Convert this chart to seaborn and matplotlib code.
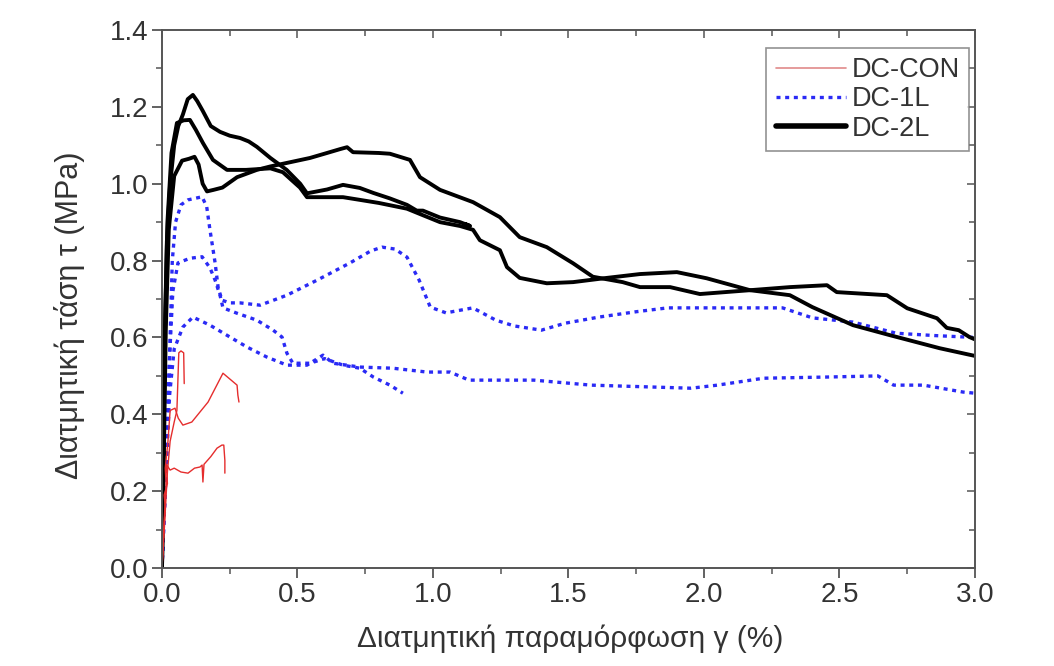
import matplotlib
matplotlib.use("Agg")
import matplotlib.pyplot as plt
from matplotlib.lines import Line2D
from matplotlib.ticker import MultipleLocator
import seaborn as sns

# DC-2L (black, solid) - three specimens
b1_x = [0, 0.005, 0.01, 0.018, 0.03, 0.045, 0.06, 0.077, 0.095, 0.114, 0.13, 0.15, 0.18, 0.214, 0.25, 0.288,
        0.32, 0.35, 0.40, 0.46, 0.51, 0.535, 0.609, 0.668, 0.73, 0.78, 0.84, 0.904, 0.94, 0.963, 1.026, 1.10,
        1.137, 1.12]
b1_y = [0, 0.30, 0.60, 0.85, 1.0, 1.10, 1.15, 1.18, 1.22, 1.231, 1.215, 1.19, 1.15, 1.135, 1.125, 1.119,
        1.11, 1.096, 1.067, 1.036, 1.0, 0.975, 0.985, 0.997, 0.989, 0.976, 0.962, 0.945, 0.93, 0.93, 0.912, 0.9,
        0.89, 0.895]

b2_x = [0, 0.006, 0.012, 0.02, 0.035, 0.055, 0.08, 0.103, 0.125, 0.151, 0.188, 0.24, 0.31, 0.40, 0.446,
        0.509, 0.535, 0.609, 0.668, 0.73, 0.80, 0.904, 0.963, 1.026, 1.10, 1.148, 1.173, 1.247, 1.273, 1.32,
        1.42, 1.517, 1.642, 1.764, 1.90, 2.01, 2.17, 2.317, 2.40, 2.55, 2.686, 2.87, 3.0]
b2_y = [0, 0.35, 0.65, 0.90, 1.08, 1.158, 1.165, 1.166, 1.14, 1.106, 1.062, 1.036, 1.036, 1.04, 1.03,
        0.99, 0.965, 0.965, 0.965, 0.958, 0.95, 0.935, 0.918, 0.9, 0.89, 0.88, 0.853, 0.827, 0.783, 0.755,
        0.741, 0.744, 0.755, 0.765, 0.77, 0.754, 0.723, 0.71, 0.679, 0.632, 0.606, 0.572, 0.552]

b3_x = [0, 0.007, 0.014, 0.025, 0.045, 0.074, 0.10, 0.12, 0.135, 0.15, 0.166, 0.19, 0.223, 0.277, 0.35,
        0.40, 0.46, 0.546, 0.609, 0.657, 0.683, 0.705, 0.80, 0.841, 0.915, 0.952, 1.026, 1.148, 1.247, 1.32,
        1.42, 1.517, 1.59, 1.70, 1.764, 1.875, 1.985, 2.17, 2.317, 2.454, 2.49, 2.675, 2.75, 2.86, 2.896,
        2.94, 2.98, 3.0]
b3_y = [0, 0.30, 0.62, 0.88, 1.02, 1.06, 1.065, 1.07, 1.05, 1.0, 0.98, 0.984, 0.99, 1.017, 1.036,
        1.045, 1.054, 1.067, 1.08, 1.09, 1.095, 1.082, 1.08, 1.078, 1.062, 1.017, 0.984, 0.952, 0.913, 0.861,
        0.835, 0.793, 0.758, 0.744, 0.731, 0.731, 0.713, 0.723, 0.731, 0.736, 0.718, 0.71, 0.676, 0.65, 0.625,
        0.619, 0.601, 0.595]

# DC-1L (blue, dotted)
u_x = [0, 0.012, 0.022, 0.03, 0.038, 0.05, 0.07, 0.096, 0.148, 0.165, 0.177, 0.196, 0.207, 0.221, 0.25,
       0.288, 0.362, 0.461, 0.572, 0.694, 0.77, 0.812, 0.86, 0.904, 0.949, 0.99, 1.048, 1.147, 1.232, 1.30,
       1.40, 1.487, 1.612, 1.75, 1.866, 2.0, 2.29, 2.40, 2.55, 2.71, 2.85, 3.0]
u_y = [0, 0.20, 0.40, 0.60, 0.80, 0.90, 0.945, 0.958, 0.966, 0.94, 0.88, 0.794, 0.731, 0.697, 0.69,
       0.69, 0.684, 0.71, 0.749, 0.794, 0.825, 0.835, 0.83, 0.809, 0.749, 0.679, 0.664, 0.677, 0.645, 0.63,
       0.619, 0.637, 0.653, 0.667, 0.677, 0.677, 0.677, 0.651, 0.64, 0.611, 0.605, 0.60]

v_x = [0, 0.015, 0.028, 0.04, 0.059, 0.103, 0.148, 0.177, 0.196, 0.214, 0.225, 0.277, 0.35, 0.41, 0.443,
       0.461, 0.483, 0.546, 0.60, 0.668, 0.73, 0.78, 0.841, 0.889]
v_y = [0, 0.30, 0.55, 0.72, 0.794, 0.806, 0.81, 0.781, 0.749, 0.71, 0.677, 0.663, 0.645, 0.619, 0.601,
       0.559, 0.533, 0.533, 0.545, 0.528, 0.52, 0.497, 0.476, 0.455]

w_x = [0, 0.015, 0.028, 0.045, 0.077, 0.114, 0.177, 0.251, 0.314, 0.387, 0.461, 0.535, 0.594, 0.631,
       0.73, 0.852, 0.978, 1.063, 1.133, 1.372, 1.583, 1.952, 2.05, 2.22, 2.45, 2.642, 2.70, 2.81, 2.956, 3.0]
w_y = [0, 0.25, 0.45, 0.57, 0.627, 0.653, 0.632, 0.601, 0.575, 0.549, 0.528, 0.528, 0.554, 0.533,
       0.523, 0.52, 0.51, 0.51, 0.489, 0.489, 0.476, 0.468, 0.476, 0.494, 0.497, 0.5, 0.476, 0.476, 0.458, 0.455]

# DC-CON (red, thin)
r1_x = [0, 0.01, 0.02, 0.03, 0.045, 0.055, 0.062, 0.07, 0.08, 0.082]
r1_y = [0, 0.12, 0.25, 0.33, 0.38, 0.41, 0.56, 0.565, 0.56, 0.48]

r2_x = [0, 0.008, 0.015, 0.012, 0.022, 0.03, 0.048, 0.06, 0.077, 0.11, 0.17, 0.225, 0.277, 0.28, 0.284]
r2_y = [0, 0.12, 0.22, 0.26, 0.33, 0.41, 0.416, 0.39, 0.372, 0.38, 0.432, 0.507, 0.476, 0.45, 0.432]

r3_x = [0, 0.005, 0.012, 0.008, 0.02, 0.016, 0.03, 0.045, 0.07, 0.096, 0.12, 0.14, 0.148, 0.151, 0.155,
        0.18, 0.203, 0.221, 0.228, 0.232, 0.232]
r3_y = [0, 0.08, 0.16, 0.19, 0.22, 0.27, 0.255, 0.26, 0.25, 0.247, 0.26, 0.263, 0.268, 0.224, 0.27,
        0.29, 0.312, 0.32, 0.32, 0.28, 0.247]

x_ticks = [0.0, 0.5, 1.0, 1.5, 2.0, 2.5, 3.0]
y_ticks = [0.0, 0.2, 0.4, 0.6, 0.8, 1.0, 1.2, 1.4]

sns.set_style("ticks")
plt.rcParams['font.family'] = ['Liberation Sans', 'DejaVu Sans']

c_red = '#e52d2d'
c_blue = '#2a2af5'
c_black = '#000000'
blue_ls = (0, (1.2, 1.4))
txt_c = '#333333'

fig = plt.figure(figsize=(10.54, 6.66), dpi=100)
ax = fig.add_axes([0.1537, 0.147, 0.7713, 0.808])

for xs, ys in [(u_x, u_y), (v_x, v_y), (w_x, w_y)]:
    sns.lineplot(x=xs, y=ys, ax=ax, sort=False, estimator=None, color=c_blue, lw=2.4, linestyle=blue_ls)
for xs, ys in [(b1_x, b1_y), (b2_x, b2_y), (b3_x, b3_y)]:
    sns.lineplot(x=xs, y=ys, ax=ax, sort=False, estimator=None, color=c_black, lw=2.8)
for xs, ys in [(r1_x, r1_y), (r2_x, r2_y), (r3_x, r3_y)]:
    sns.lineplot(x=xs, y=ys, ax=ax, sort=False, estimator=None, color=c_red, lw=1.0)

ax.set_xlim(0, 3.0)
ax.set_ylim(0, 1.4)
ax.set_xticks(x_ticks)
ax.set_yticks(y_ticks)
ax.set_xticklabels([f'{v:.1f}' for v in x_ticks])
ax.set_yticklabels([f'{v:.1f}' for v in y_ticks])
ax.xaxis.set_minor_locator(MultipleLocator(0.25))
ax.yaxis.set_minor_locator(MultipleLocator(0.1))

spine_c = '#555555'
for s in ax.spines.values():
    s.set_visible(True)
    s.set_color(spine_c)
    s.set_linewidth(1.4)

ax.tick_params(which='major', direction='out', length=7, width=1.3, color=spine_c,
               labelsize=20, labelcolor=txt_c, pad=3)
ax.tick_params(which='minor', direction='out', length=4, width=1.1, color=spine_c)

# mirrored inward ticks on top and right
top = ax.secondary_xaxis('top')
top.set_xticks(x_ticks)
top.xaxis.set_minor_locator(MultipleLocator(0.25))
top.tick_params(which='both', direction='in', labeltop=False, color=spine_c, width=1.1)
top.tick_params(which='major', length=6)
top.tick_params(which='minor', length=4)
right = ax.secondary_yaxis('right')
right.set_yticks(y_ticks)
right.yaxis.set_minor_locator(MultipleLocator(0.1))
right.tick_params(which='both', direction='in', labelright=False, color=spine_c, width=1.1)
right.tick_params(which='major', length=6)
right.tick_params(which='minor', length=4)
for sec in (top, right):
    for s in sec.spines.values():
        s.set_visible(False)

ax.set_xlabel('Διατμητική παραμόρφωση γ (%)', fontsize=21.5, color=txt_c)
ax.set_ylabel('Διατμητική τάση τ (MPa)', fontsize=22, color=txt_c)
ax.xaxis.set_label_coords(0.502, -0.104)
ax.yaxis.set_label_coords(-0.095, 0.47)

handles = [Line2D([], [], color='#e08a8a', lw=1.2),
           Line2D([], [], color=c_blue, lw=2.4, linestyle=blue_ls),
           Line2D([], [], color=c_black, lw=4.0)]
leg = ax.legend(handles, ['DC-CON', 'DC-1L', 'DC-2L'], loc='upper right', fontsize=19.5,
                frameon=True, fancybox=False, edgecolor='#777777', handlelength=2.6,
                bbox_to_anchor=(0.993, 0.967), borderaxespad=0.0, borderpad=0.35,
                labelspacing=0.12, handletextpad=0.2)
leg.get_frame().set_linewidth(1.2)
for t in leg.get_texts():
    t.set_color(txt_c)

fig.savefig('out.png', dpi=100)
